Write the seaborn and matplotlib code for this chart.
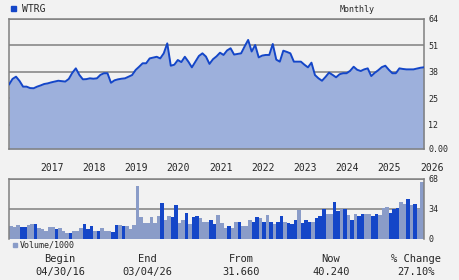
import numpy as np
import pandas as pd
import matplotlib
matplotlib.use("Agg")
import matplotlib.pyplot as plt
import seaborn as sns
from matplotlib.patches import Rectangle
from matplotlib.transforms import ScaledTranslation

# ---------------- data (monthly, from 04/30/16 to 03/04/26) ----------------
ticker = "WTRG"
price = [31.7, 34.5, 35.6, 33.5, 30.7, 30.7, 30.0, 29.9, 30.7, 31.3,
         32.0, 32.3, 32.8, 33.2, 33.6, 33.4, 33.2, 34.5, 37.5, 39.7,
         36.5, 34.3, 34.4, 34.8, 34.6, 34.8, 36.5, 37.3, 37.3, 32.6,
         33.8, 34.3, 34.6, 34.8, 35.6, 36.4, 38.9, 40.5, 42.2, 42.2,
         44.6, 45.0, 45.4, 44.6, 47.1, 52.0, 41.0, 41.5, 43.8, 42.8,
         45.4, 43.0, 40.2, 43.0, 45.8, 47.1, 45.5, 41.9, 44.2, 45.6,
         47.4, 46.3, 48.5, 49.6, 46.5, 46.8, 47.1, 50.5, 53.7, 48.0,
         51.2, 45.1, 46.0, 46.3, 46.3, 51.7, 44.0, 43.0, 48.4, 47.8,
         47.1, 43.0, 43.0, 43.0, 41.5, 40.2, 42.5, 36.4, 34.8, 33.6,
         35.5, 37.6, 36.5, 35.3, 36.8, 37.3, 37.3, 38.5, 40.5, 39.0,
         38.4, 39.2, 39.7, 35.9, 37.5, 38.8, 40.3, 41.0, 39.0, 37.3,
         37.3, 39.7, 39.4, 39.2, 39.2, 39.2, 39.6, 40.0, 40.24]

volume = [14.3, 13.7, 15.4, 13.7, 13.7, 15.4, 16.7, 17.5, 12.4, 10.9,
          8.6, 13.1, 13.1, 10.9, 12.4, 8.6, 7.2, 7.2, 8.6, 8.6,
          12.4, 16.6, 10.9, 14.7, 8.6, 8.6, 12.4, 8.6, 8.6, 7.8,
          15.7, 15.7, 14.7, 14.7, 10.9, 15.7, 60.0, 24.9, 18.0, 18.0,
          24.9, 18.0, 25.7, 41.0, 22.0, 25.7, 24.9, 38.3, 18.0, 22.0,
          29.5, 16.6, 24.9, 25.7, 24.0, 19.0, 19.0, 22.0, 16.6, 27.4,
          18.0, 12.4, 14.7, 12.4, 19.0, 19.8, 14.7, 14.7, 22.0, 19.8,
          24.5, 24.0, 19.8, 27.4, 19.8, 16.6, 19.0, 25.7, 19.8, 18.2,
          16.6, 21.2, 32.6, 18.0, 21.2, 19.8, 19.8, 24.0, 25.7, 33.7,
          28.0, 28.9, 42.0, 31.8, 34.5, 34.5, 27.4, 21.2, 28.0, 25.7,
          28.9, 28.9, 28.0, 25.7, 28.9, 27.4, 35.3, 36.0, 30.0, 34.5,
          35.0, 41.5, 39.5, 45.4, 38.5, 40.0, 34.5, 65.0]

vol_kind = ["L", "L", "L", "D", "D", "L", "L", "D", "L", "L",
            "L", "L", "L", "D", "L", "L", "L", "D", "L", "L",
            "L", "D", "D", "D", "L", "D", "L", "L", "L", "D",
            "D", "L", "D", "L", "L", "L", "L", "L", "L", "L",
            "L", "L", "L", "D", "L", "L", "D", "D", "L", "L",
            "D", "L", "D", "D", "L", "L", "L", "D", "D", "L",
            "L", "L", "D", "L", "L", "D", "L", "L", "L", "D",
            "D", "L", "D", "L", "D", "L", "D", "D", "L", "D",
            "D", "D", "L", "D", "D", "D", "L", "D", "D", "D",
            "L", "L", "D", "D", "L", "D", "L", "D", "L", "D",
            "D", "L", "L", "D", "D", "L", "L", "L", "D", "D",
            "D", "L", "L", "D", "L", "D", "L", "L"]

year_labels = ["2017", "2018", "2019", "2020", "2021", "2022", "2023", "2024", "2025", "2026"]
year_pos = [8, 20, 32, 44, 56, 68, 80, 92, 104, 116]   # month index of Jan 1

price_ticks = [0, 12, 25, 38, 51, 64]
price_tick_labels = ["0.00", "12", "25", "38", "51", "64"]
vol_ticks = [0, 34, 68]

summary_heads = ["Begin", "End", "From", "Now", "% Change"]
summary_vals = ["04/30/16", "03/04/26", "31.660", "40.240", "27.10%"]

# ---------------- style ----------------
BG = "#f2f2f2"
FILL = "#9db0dc"
LINE = "#1446c8"
DARK = "#1446c8"
LIGHT = "#8a9cc8"
GRID = "#808080"

sns.set_style("white")
plt.rcParams["font.family"] = ["DejaVu Sans Mono", "DejaVu Sans"]

W, H = 460, 280
fig = plt.figure(figsize=(W / 100, H / 100), dpi=100, facecolor=BG)


def fx(x):
    return x / W


def fy(y):
    return 1 - y / H


ax = fig.add_axes([fx(9), fy(149), 415 / W, 130 / H], facecolor=BG)
axv = fig.add_axes([fx(9), fy(239), 415 / W, 60 / H], facecolor=BG)

# ---------------- price panel ----------------
df = pd.DataFrame({"m": np.arange(len(price)), "price": price})
ax.fill_between(df["m"], df["price"], 0, color=FILL, lw=0, zorder=2)
sns.lineplot(data=df, x="m", y="price", ax=ax, color=LINE, lw=1.4, zorder=3)
ax.set_xlim(0, len(price) - 1)
ax.set_ylim(0, 64)
ax.set_axisbelow(True)
ax.yaxis.grid(True, color=GRID, lw=1.1)
ax.set_yticks(price_ticks)
ax.set_yticklabels(price_tick_labels)
ax.yaxis.tick_right()
ax.tick_params(axis="y", length=0, labelsize=6, pad=3)
ax.set_xticks(year_pos)
ax.set_xticklabels(year_labels)
ax.tick_params(axis="x", length=0, labelsize=7, pad=10)
for lab in ax.get_xticklabels():
    lab.set_ha("left")
    lab.set_transform(lab.get_transform() + ScaledTranslation(0.03, 0, fig.dpi_scale_trans))
ax.set_xlabel("")
ax.set_ylabel("")
for s in ax.spines.values():
    s.set_color(GRID)
    s.set_linewidth(1.1)

# ---------------- volume panel ----------------
vdf = pd.DataFrame({"m": np.arange(len(volume)), "vol": volume, "kind": vol_kind})
bar_colors = [DARK if k == "D" else LIGHT for k in vdf["kind"]]
sns.barplot(data=vdf, x="m", y="vol", hue="m", palette=bar_colors,
            width=1.0, saturation=1, linewidth=0, legend=False,
            antialiased=False, ax=axv, zorder=2)
axv.set_xlim(-0.5, len(volume) - 0.5)
axv.set_ylim(0, 68)
axv.set_axisbelow(True)
axv.yaxis.grid(True, color=GRID, lw=1.1)
axv.set_yticks(vol_ticks)
axv.set_yticklabels([str(t) for t in vol_ticks])
axv.yaxis.tick_right()
axv.tick_params(axis="y", length=0, labelsize=6, pad=3)
axv.set_xticks([])
axv.set_xlabel("")
axv.set_ylabel("")
for s in axv.spines.values():
    s.set_color(GRID)
    s.set_linewidth(1.1)
axv.spines["bottom"].set_visible(False)

# ---------------- legends / labels ----------------
fig.patches.append(Rectangle((fx(11), fy(11)), 5 / W, 5 / H, color=LINE,
                             transform=fig.transFigure, figure=fig))
fig.text(fx(22), fy(8.5), ticker, fontsize=7, va="center", ha="left")
fig.text(fx(357), fy(9), "Monthly", fontsize=6, va="center", ha="center")

fig.patches.append(Rectangle((fx(13), fy(247)), 4 / W, 4 / H, color=LIGHT,
                             transform=fig.transFigure, figure=fig))
fig.text(fx(20), fy(245), "Volume/1000", fontsize=6, va="center", ha="left")

centers = [60, 147, 241, 331, 416]
for cx, h, v in zip(centers, summary_heads, summary_vals):
    fig.text(fx(cx), fy(259), h, fontsize=7.5, va="center", ha="center")
    fig.text(fx(cx), fy(272), v, fontsize=7.5, va="center", ha="center")

fig.savefig("out.png", dpi=100, facecolor=BG)
